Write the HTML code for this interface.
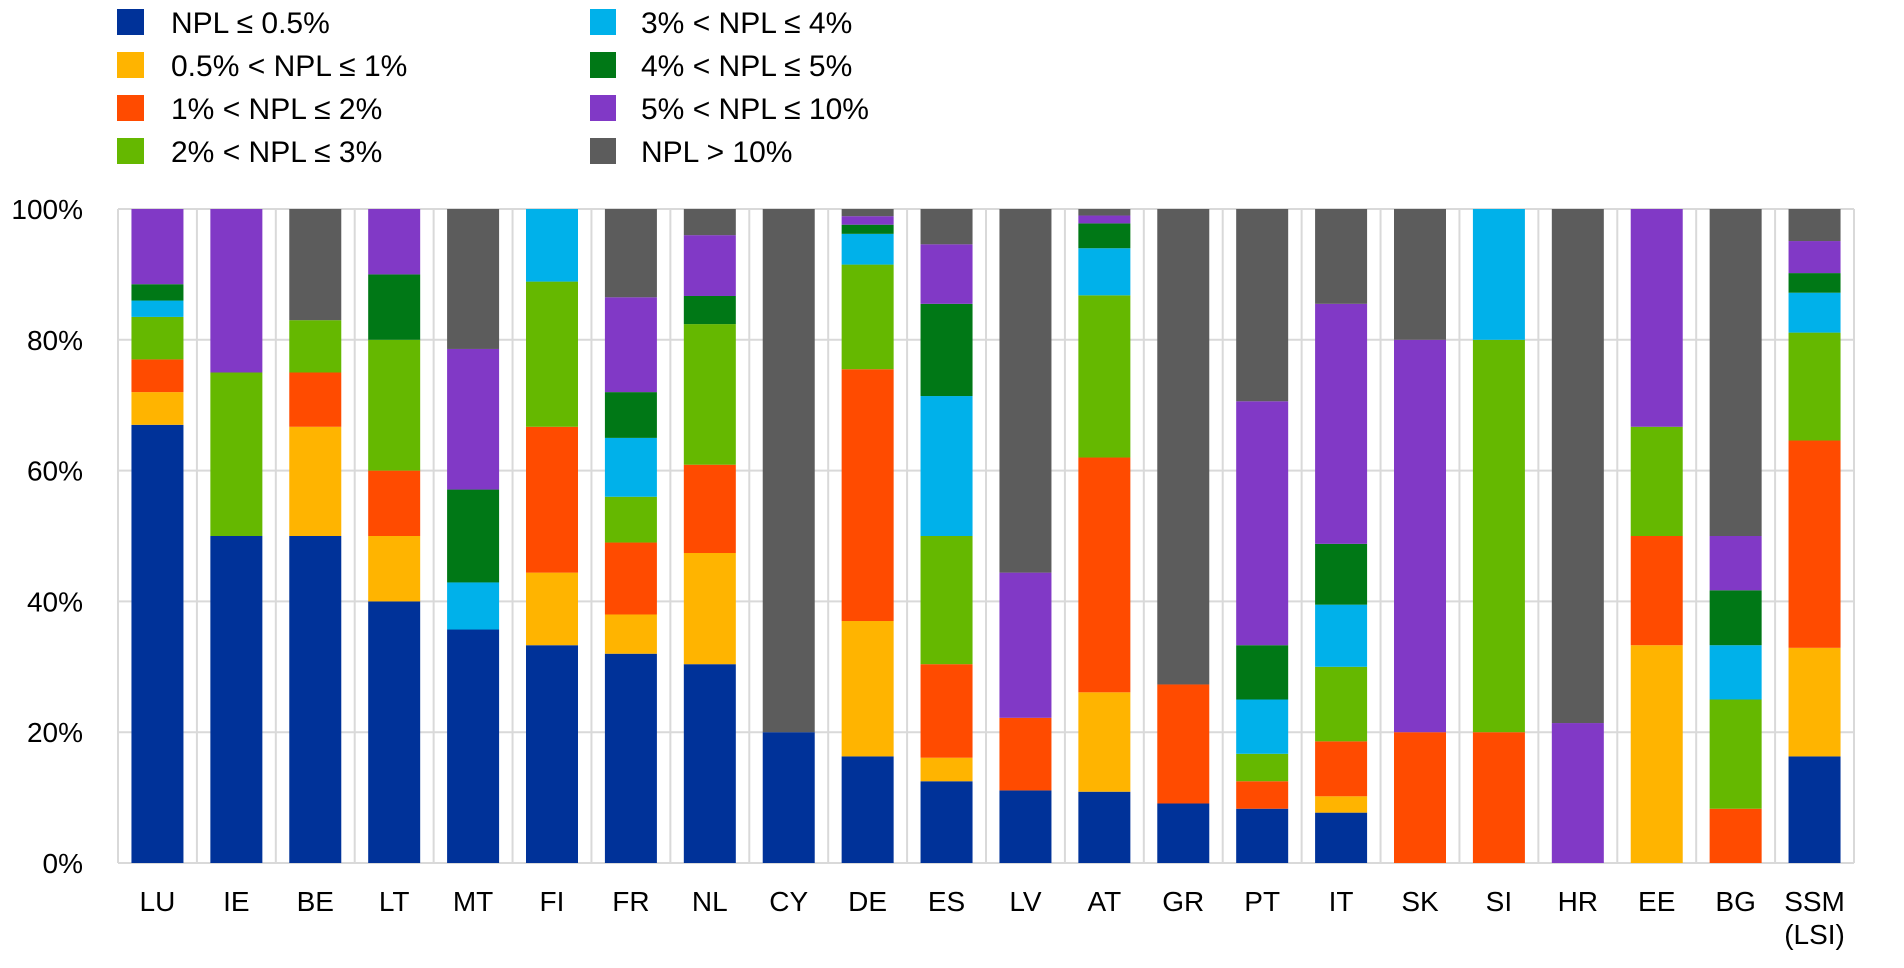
<!DOCTYPE html>
<html><head><meta charset="utf-8"><style>
html,body{margin:0;padding:0;background:#fff;width:1904px;height:968px;overflow:hidden}
svg{display:block;font-family:"Liberation Sans",Arial,sans-serif}
</style></head><body>
<svg id="c" width="1904" height="968" xmlns="http://www.w3.org/2000/svg"></svg>
<script>
const svg=document.getElementById('c');
const NS="http://www.w3.org/2000/svg";
function el(t,a,txt){const e=document.createElementNS(NS,t);for(const k in a)e.setAttribute(k,a[k]);if(txt!=null)e.textContent=txt;svg.appendChild(e);return e;}
const col=["#003299","#FFB400","#FF4B00","#65B800","#00B1EA","#007816","#8139C6","#5C5C5C"];
const X0=118,X1=1854,Y0=863,Y1=209,n=22,cw=(X1-X0)/n,bw=52;
const H=Y0-Y1;
for(let i=0;i<=5;i++){const y=Y0-H*i/5;el('line',{x1:X0,x2:X1,y1:y,y2:y,stroke:'#d9d9d9','stroke-width':2});
el('text',{x:83,y:y+10,'text-anchor':'end','font-size':28,fill:'#000'},(i*20)+'%');}
for(let i=0;i<=n;i++){const x=X0+cw*i;el('line',{x1:x,x2:x,y1:Y1,y2:Y0,stroke:'#d9d9d9','stroke-width':2});}
const D=[
["LU",[[0,67],[1,72],[2,77],[3,83.5],[4,86],[5,88.5],[6,100]]],
["IE",[[0,50],[3,75],[6,100]]],
["BE",[[0,50],[1,66.7],[2,75],[3,83],[7,100]]],
["LT",[[0,40],[1,50],[2,60],[3,80],[5,90],[6,100]]],
["MT",[[0,35.7],[4,42.9],[5,57.1],[6,78.6],[7,100]]],
["FI",[[0,33.3],[1,44.4],[2,66.7],[3,88.9],[4,100]]],
["FR",[[0,32],[1,38],[2,49],[3,56],[4,65],[5,72],[6,86.5],[7,100]]],
["NL",[[0,30.4],[1,47.4],[2,60.9],[3,82.4],[5,86.7],[6,96],[7,100]]],
["CY",[[0,20],[7,100]]],
["DE",[[0,16.3],[1,37],[2,75.5],[3,91.5],[4,96.2],[5,97.6],[6,98.9],[7,100]]],
["ES",[[0,12.5],[1,16.1],[2,30.4],[3,50],[4,71.4],[5,85.5],[6,94.6],[7,100]]],
["LV",[[0,11.1],[2,22.2],[6,44.4],[7,100]]],
["AT",[[0,10.9],[1,26.1],[2,62],[3,86.8],[4,94],[5,97.8],[6,99],[7,100]]],
["GR",[[0,9.1],[2,27.3],[7,100]]],
["PT",[[0,8.3],[2,12.5],[3,16.7],[4,25],[5,33.3],[6,70.6],[7,100]]],
["IT",[[0,7.7],[1,10.2],[2,18.6],[3,30],[4,39.5],[5,48.8],[6,85.5],[7,100]]],
["SK",[[2,20],[6,80],[7,100]]],
["SI",[[2,20],[3,80],[4,100]]],
["HR",[[6,21.4],[7,100]]],
["EE",[[1,33.3],[2,50],[3,66.7],[6,100]]],
["BG",[[2,8.3],[3,25],[4,33.3],[5,41.7],[6,50],[7,100]]],
["SSM",[[0,16.3],[1,32.9],[2,64.6],[3,81.1],[4,87.2],[5,90.2],[6,95.1],[7,100]]]
];
D.forEach((d,i)=>{const cx=X0+cw*(i+0.5);let prev=0;
d[1].forEach(s=>{const yt=Y0-H*s[1]/100,yb=Y0-H*prev/100;el('rect',{x:cx-bw/2,y:yt,width:bw,height:yb-yt,fill:col[s[0]]});prev=s[1];});
el('text',{x:cx,y:911,'text-anchor':'middle','font-size':28,fill:'#000'},d[0]);
if(d[0]=="SSM")el('text',{x:cx,y:944,'text-anchor':'middle','font-size':28,fill:'#000'},'(LSI)');
});
const L=[["NPL ≤ 0.5%","3% < NPL ≤ 4%"],["0.5% < NPL ≤ 1%","4% < NPL ≤ 5%"],["1% < NPL ≤ 2%","5% < NPL ≤ 10%"],["2% < NPL ≤ 3%","NPL > 10%"]];
const rows=[22,65,108,151];
L.forEach((r,j)=>{const y=rows[j];
el('rect',{x:117,y:y-13,width:27,height:26,fill:col[j]});
el('text',{x:171,y:y+11,'font-size':30,fill:'#000'},r[0]);
el('rect',{x:590,y:y-13,width:26,height:26,fill:col[j+4]});
el('text',{x:641,y:y+11,'font-size':30,fill:'#000'},r[1]);
});
</script>
</body></html>
